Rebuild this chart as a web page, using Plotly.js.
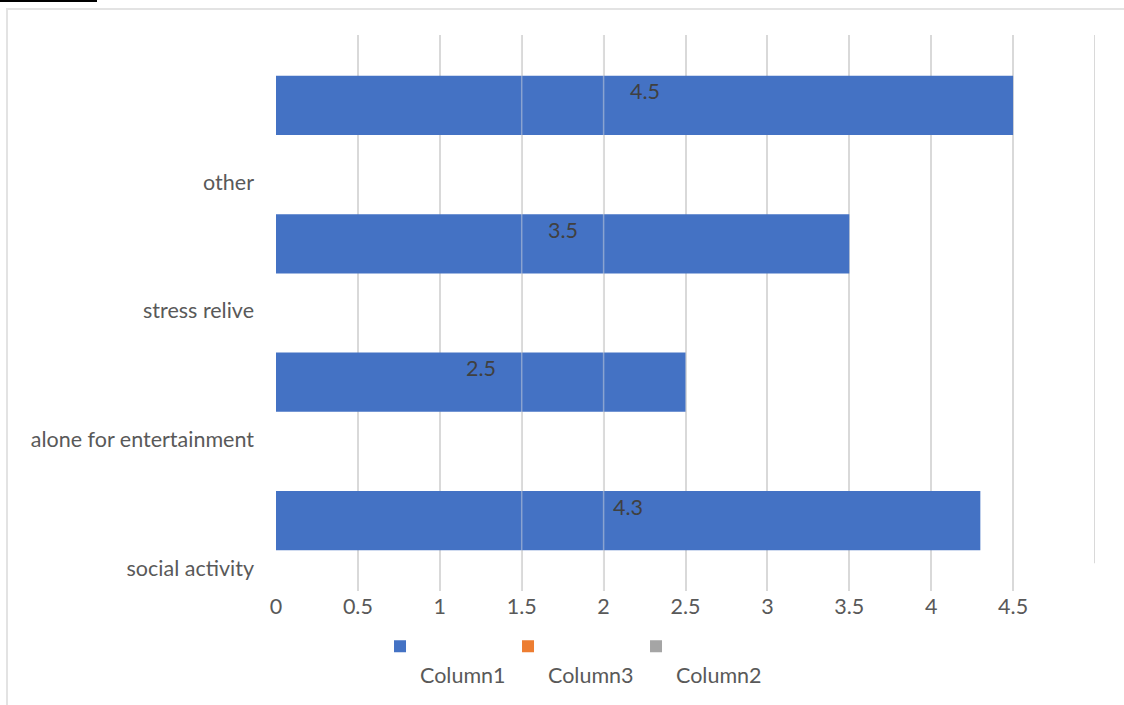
<!DOCTYPE html>
<html>
<head>
<meta charset="utf-8">
<script src="https://cdn.plot.ly/plotly-3.0.1.min.js"></script>
<style>
  html, body { margin: 0; padding: 0; background: #ffffff; }
  #wrap { position: relative; width: 1124px; height: 705px; overflow: hidden; }
  #frame { position: absolute; left: 6px; top: 8px; right: -4px; bottom: -4px;
           border-left: 2px solid #e3e3e3; border-top: 2px solid #e3e3e3; }
  #rule { position: absolute; left: 0; top: 0; width: 97px; height: 2px; background: #000; }
  #chart { position: absolute; left: 0; top: 0; width: 1124px; height: 705px; }
</style>
</head>
<body>
<div id="wrap">
  <div id="frame"></div>
  <div id="chart"></div>
  <div id="rule"></div>
</div>
<script>
// Categories, bottom to top
const categories = ["social activity", "alone for entertainment", "stress relive", "other"];
// Series values (Column3 and Column2 have no entries)
const column1 = [4.3, 2.5, 3.5, 4.5];
const column3 = [null, null, null, null];
const column2 = [null, null, null, null];
// Value-axis tick labels
const xTicks = [0, 0.5, 1, 1.5, 2, 2.5, 3, 3.5, 4, 4.5];

const idx = categories.map((c, i) => i);
const FONT = "Lato, Open Sans, sans-serif";
const FS = 21.5;

const traces = [
  { type: "bar", orientation: "h", name: "Column1", x: column1, y: idx,
    marker: { color: "#4472c4" }, hoverinfo: "x" },
  { type: "bar", orientation: "h", name: "Column3", x: column3, y: idx,
    marker: { color: "#ed7d31" }, hoverinfo: "x" },
  { type: "bar", orientation: "h", name: "Column2", x: column2, y: idx,
    marker: { color: "#a5a5a5" }, hoverinfo: "x" },
  // carrier for the category label axis
  { type: "scatter", mode: "markers", x: idx.map(() => null), y: idx, yaxis: "y2",
    showlegend: false, hoverinfo: "skip", marker: { opacity: 0 } }
];

// value labels sit in the middle of each bar, near its upper edge
const annotations = column1.map((v, i) => ({
  x: v / 2, y: i, xref: "x", yref: "y", text: String(v), showarrow: false,
  yshift: 14, font: { family: FONT, size: FS, color: "#404040" }
}));

const shapes = [
  // outer value gridline (no tick label)
  { type: "line", xref: "x", yref: "paper", x0: 5, x1: 5, y0: 0.05, y1: 1,
    line: { color: "#d9d9d9", width: 2 }, layer: "below" },
  // faint gridlines showing through the bars
  { type: "line", xref: "x", yref: "paper", x0: 1.5, x1: 1.5, y0: 0, y1: 1,
    line: { color: "rgba(225,225,225,0.45)", width: 1.5 }, layer: "above" },
  { type: "line", xref: "x", yref: "paper", x0: 2, x1: 2, y0: 0, y1: 1,
    line: { color: "rgba(225,225,225,0.45)", width: 1.5 }, layer: "above" }
];

const layout = {
  width: 1124, height: 705,
  margin: { l: 276, r: 29, t: 35, b: 114, autoexpand: false },
  paper_bgcolor: "rgba(0,0,0,0)", plot_bgcolor: "rgba(0,0,0,0)",
  font: { family: FONT, size: FS, color: "#595959" },
  barmode: "overlay", bargap: 0.572,
  showlegend: true,
  legend: { orientation: "h", x: 0.127, xanchor: "left", y: -0.0625, yanchor: "top",
            valign: "top", font: { family: FONT, size: FS, color: "#595959" },
            entrywidth: 83, traceorder: "normal" },
  xaxis: { range: [0, 5], tickvals: xTicks, ticktext: xTicks.map(String),
           showgrid: true, gridcolor: "#d9d9d9", gridwidth: 2,
           zeroline: false, showline: false, ticks: "", fixedrange: true,
           ticklabelstandoff: 0 },
  yaxis: { range: [-0.508, 3.508], showticklabels: false, showgrid: false,
           zeroline: false, showline: false, fixedrange: true },
  yaxis2: { overlaying: "y", side: "left", anchor: "x", range: [-0.178, 4.143],
            tickvals: idx, ticktext: categories, showgrid: false, zeroline: false,
            showline: false, ticks: "", ticklabelstandoff: 21, fixedrange: true },
  annotations: annotations,
  shapes: shapes
};

// legend text drops one line below its swatch
traces.slice(0, 3).forEach(t => { t.name = " <br>" + t.name; });

Plotly.newPlot("chart", traces, layout, { displayModeBar: false, staticPlot: true });
</script>
</body>
</html>
